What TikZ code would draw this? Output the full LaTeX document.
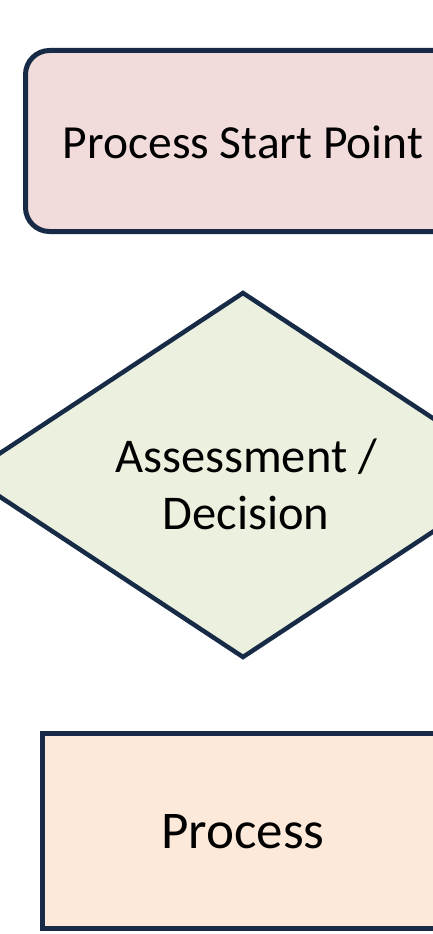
\documentclass[tikz,border=0pt]{standalone}
\usepackage{fontspec}
\setmainfont{Carlito}
\usetikzlibrary{shapes.geometric}
\definecolor{edgenavy}{HTML}{172B47}
\definecolor{startfill}{HTML}{F2DCDB}
\definecolor{decisionfill}{HTML}{EBF1DE}
\definecolor{processfill}{HTML}{FDE9D9}
\tikzset{
  shapeline/.style={draw=edgenavy, line width=5pt, inner sep=0pt, outer sep=0pt},
  label text/.style={font=\fontsize{47.5}{57}\selectfont, text=black, inner sep=0pt, align=center},
}
\begin{document}
\begin{tikzpicture}[x=1pt, y=-1pt]
  \useasboundingbox (0,0) rectangle (433,934);
  \begin{scope}
    \clip (0,0) rectangle (433,934);
    % start terminal
    \node[shapeline, fill=startfill, rectangle, rounded corners=24pt,
          minimum width=435pt, minimum height=181pt] (start) at (243,141) {};
    % decision diamond
    \node[shapeline, line width=4.5pt, fill=decisionfill, diamond,
          minimum width=552pt, minimum height=364pt] (decision) at (243,475) {};
    % process box
    \node[shapeline, fill=processfill, rectangle,
          minimum width=402pt, minimum height=195pt] (process) at (243,830.5) {};
  \end{scope}
  \node[label text] (starttext) at (243,142) {Process Start Point};
  \node[label text, font=\fontsize{48.5}{57}\selectfont] (decisiontext) at (246,484) {Assessment /\\Decision};
  \node[label text, font=\fontsize{53}{60}\selectfont] (processtext) at (243,832) {Process};
\end{tikzpicture}
\end{document}
